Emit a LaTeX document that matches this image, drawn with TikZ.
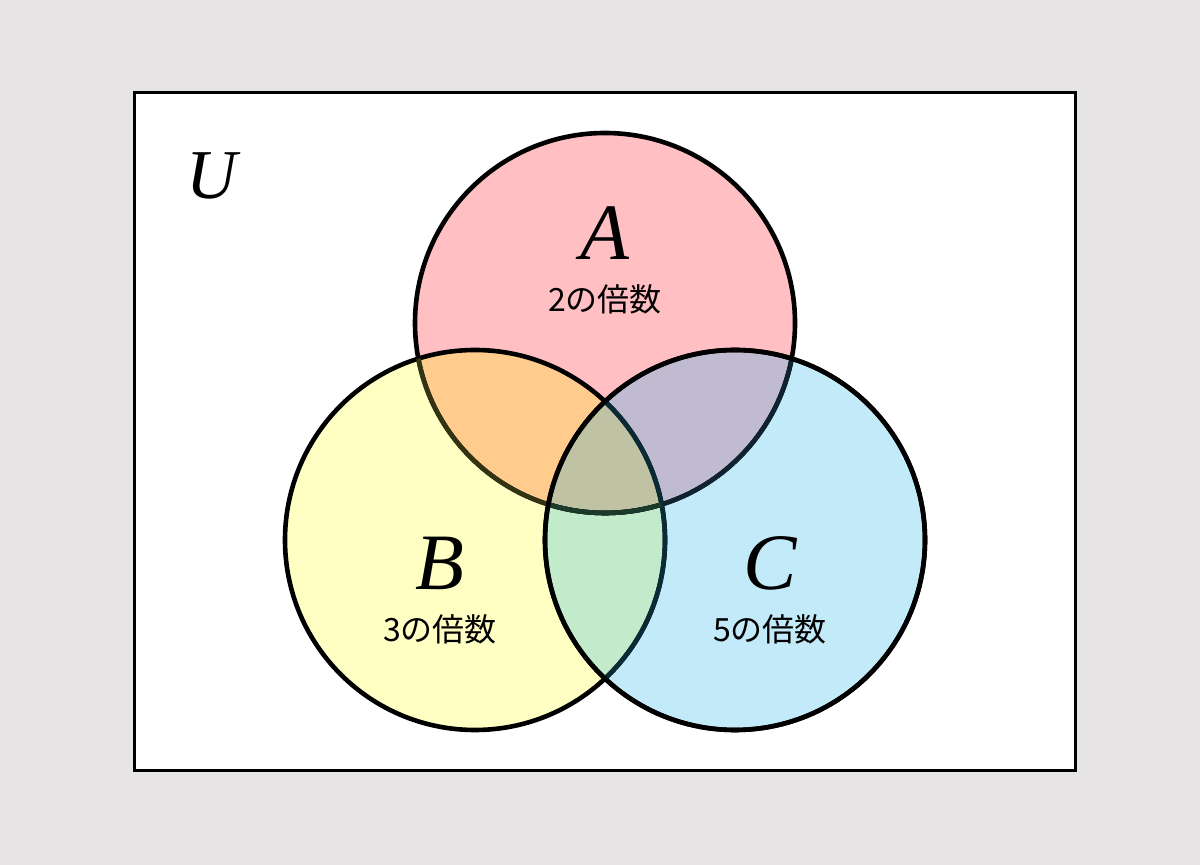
\documentclass[tikz,border=0pt]{standalone}
\usepackage{fontspec}
\setmainfont{Liberation Serif}
\newfontfamily\jp{Noto Sans CJK JP}
\definecolor{bg}{HTML}{E6E4E5}
\definecolor{cA}{HTML}{FFBFC3}
\definecolor{cB}{HTML}{FFFFC4}
\definecolor{cC}{HTML}{C3EAF9}
\definecolor{cAB}{HTML}{FFCC8E}
\definecolor{cAC}{HTML}{C0BBD0}
\definecolor{cBC}{HTML}{C1EBCB}
\definecolor{cABC}{HTML}{C0C3A3}
\definecolor{sAB}{HTML}{333312}
\definecolor{sAC}{HTML}{0E2230}
\definecolor{sABC}{HTML}{1A3A2A}
\definecolor{sBC}{HTML}{0A2A35}
\tikzset{
  setname/.style={font=\itshape\fontsize{40}{40}\selectfont},
  setdesc/.style={font=\jp\fontsize{16}{16}\selectfont},
  ring/.style={line width=2.3pt},
}
\begin{document}
\begin{tikzpicture}[x=0.5pt,y=-0.5pt]
\fill[bg] (0,0) rectangle (1200,865);
\useasboundingbox (0,0) rectangle (1200,865);
\draw[line width=1.5pt,fill=white] (134,93) rectangle (1075,771);
\def\cA{(605,323) circle[radius=190]}
\def\cB{(475,540) circle[radius=190]}
\def\cC{(735,540) circle[radius=190]}
\fill[cA] \cA;
\fill[cB] \cB;
\fill[cC] \cC;
\begin{scope}\clip \cA; \fill[cAB] \cB; \fill[cAC] \cC; \end{scope}
\begin{scope}\clip \cB; \fill[cBC] \cC; \end{scope}
\begin{scope}\clip \cA; \clip \cB; \fill[cABC] \cC; \end{scope}
% strokes
\draw[ring] \cA;
\draw[ring] \cB;
\draw[ring] \cC;
\begin{scope}\clip \cB; \draw[ring,sAB] \cA; \end{scope}
\begin{scope}\clip \cC; \draw[ring,sAC] \cA; \draw[ring,sBC] \cB; \end{scope}
\begin{scope}\clip \cB; \clip \cC; \draw[ring,sABC] \cA; \end{scope}
\draw[ring] \cC;
% labels
\node[font=\itshape\fontsize{35}{35}\selectfont] (U) at (212,176) {U};
\node[setname] (A) at (605,233) {A};
\node[setdesc] (Ad) at (605,299) {2の倍数};
\node[setname] (B) at (440,563) {B};
\node[setdesc] (Bd) at (440,629) {3の倍数};
\node[setname] (C) at (770,563) {C};
\node[setdesc] (Cd) at (770,629) {5の倍数};
\end{tikzpicture}
\end{document}
